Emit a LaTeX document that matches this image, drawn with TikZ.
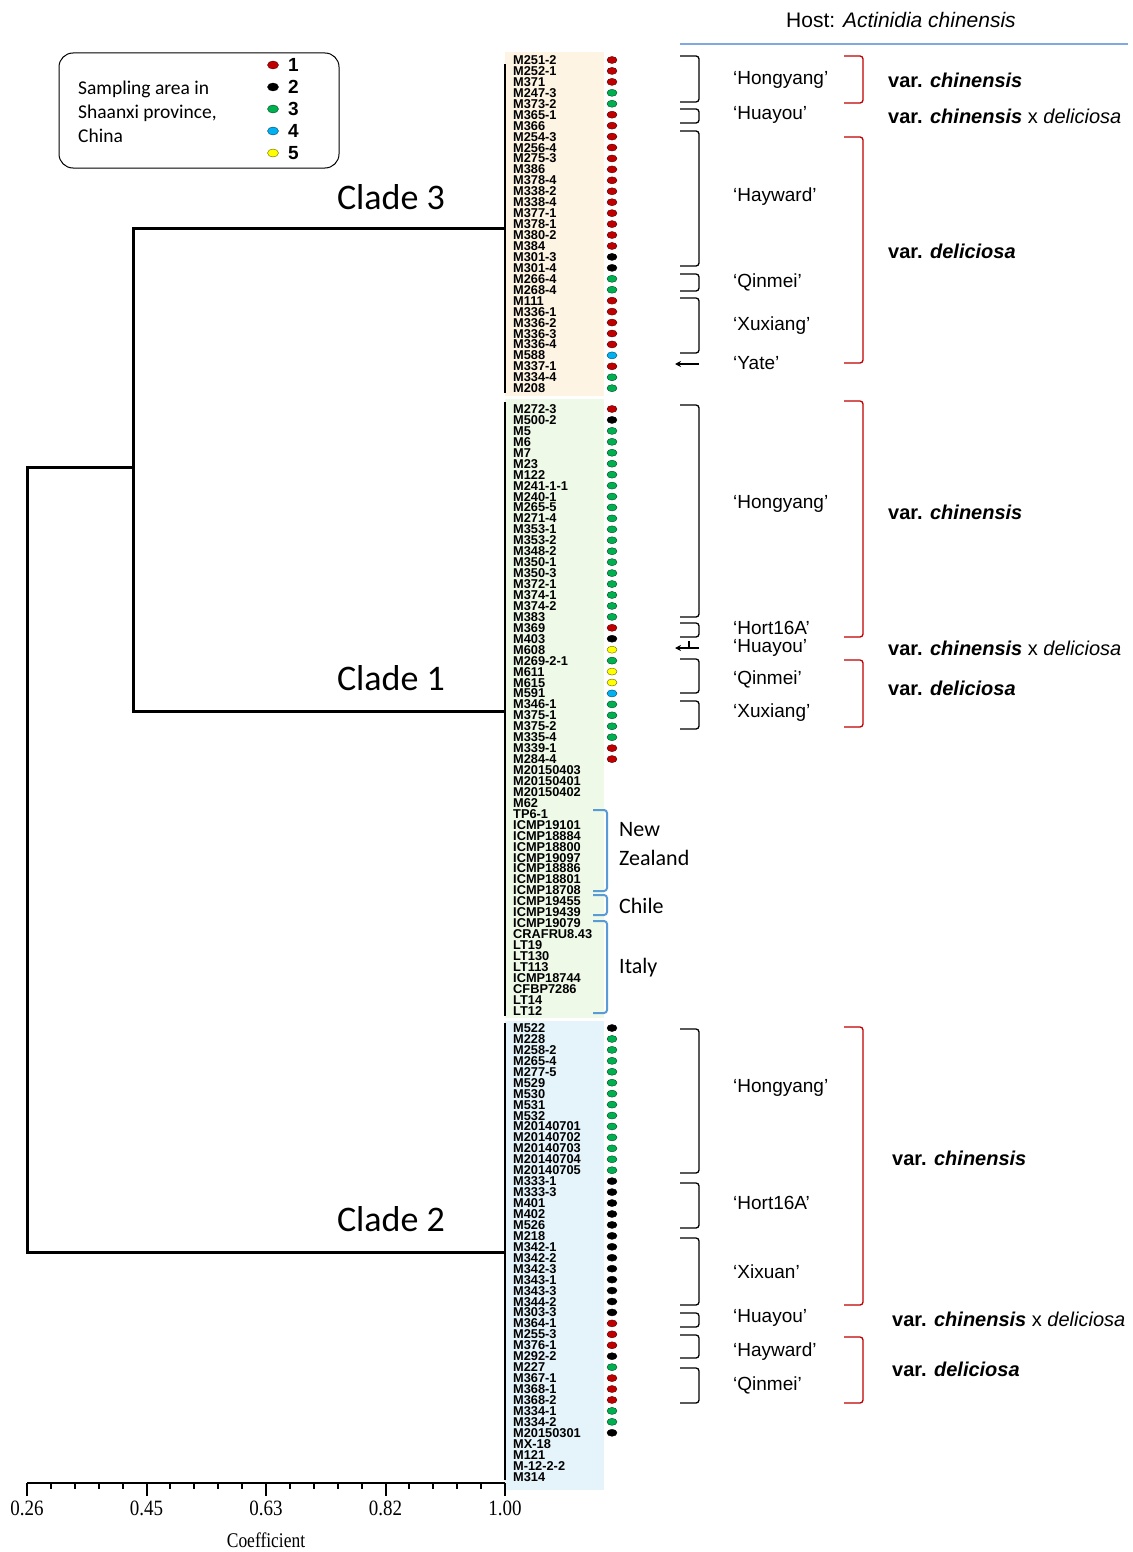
\documentclass[tikz,border=0pt]{standalone}
\usepackage{fontspec}
\setmainfont{Liberation Sans}
\newfontfamily\carlito{Carlito}
\newfontfamily\tnr{Liberation Serif}
\usetikzlibrary{arrows.meta,shapes.geometric}
\definecolor{cred}{HTML}{C00000}
\definecolor{cgreen}{HTML}{00B050}
\definecolor{cblue}{HTML}{00B0F0}
\definecolor{cyel}{HTML}{FFFF00}
\definecolor{cblk}{HTML}{000000}
\definecolor{bgor}{HTML}{FDF4E3}
\definecolor{bggr}{HTML}{EEF9E7}
\definecolor{bgbl}{HTML}{E4F4FA}
\definecolor{brblue}{HTML}{5B9BD5}
\definecolor{hline}{HTML}{7FAADF}
\begin{document}
\begin{tikzpicture}[x=1pt,y=-1pt,
  rowlab/.style={anchor=west,inner sep=0pt,font=\fontsize{12.8}{12.8}\selectfont\bfseries,text height=9pt,text depth=0pt},
  dot/.style={ellipse,inner sep=0pt,minimum width=10pt,minimum height=7pt,line width=0.4pt},
  dend/.style={line width=3pt},
  clv/.style={line width=2.2pt},
  kbr/.style={line width=1.3pt,rounded corners=3pt},
  rbr/.style={line width=1.3pt,draw=cred,rounded corners=3pt},
  bbr/.style={line width=2pt,draw=brblue,rounded corners=3pt},
  cult/.style={anchor=west,inner sep=0pt,font=\fontsize{19}{19}\selectfont},
  varl/.style={anchor=west,inner sep=0pt,font=\fontsize{20}{20}\selectfont},
  cladel/.style={font=\carlito\fontsize{36}{36}\selectfont,inner sep=0pt},
  geo/.style={anchor=west,inner sep=0pt,font=\carlito\fontsize{22}{22}\selectfont},
  ticklab/.style={font=\tnr\fontsize{19}{19}\selectfont,inner sep=0pt,yscale=1.15},
  tick/.style={line width=2pt},
  arr/.style={-{Stealth[length=6pt,width=6pt]},line width=1.3pt}
]
\useasboundingbox (0,0) rectangle (1132,1552);
\fill[white] (0,0) rectangle (1132,1552);

% backgrounds
\fill[bgor] (505,52) rectangle (604,396);
\fill[bggr] (505,399) rectangle (604,1018);
\fill[bgbl] (505,1021) rectangle (604,1490);

% clade 3 labels
\foreach \lab [count=\i] in {M251-2,M252-1,M371,M247-3,M373-2,M365-1,M366,M254-3,M256-4,M275-3,M386,M378-4,M338-2,M338-4,M377-1,M378-1,M380-2,M384,M301-3,M301-4,M266-4,M268-4,M111,M336-1,M336-2,M336-3,M336-4,M588,M337-1,M334-4,M208}{
  \pgfmathsetmacro\yy{60+(\i-1)*10.94}
  \node[rowlab] (ra\i) at (513,\yy) {\lab};}
\foreach \col [count=\i] in {cred,cred,cred,cgreen,cgreen,cred,cred,cred,cred,cred,cred,cred,cred,cred,cred,cred,cred,cred,cblk,cblk,cgreen,cgreen,cred,cred,cred,cred,cred,cblue,cred,cgreen,cgreen}{
  \pgfmathsetmacro\yy{60+(\i-1)*10.94}
  \node[dot,fill=\col,draw=\col!40!black] (pa\i) at (612,\yy) {};}

% clade 1 labels
\foreach \lab [count=\i] in {M272-3,M500-2,M5,M6,M7,M23,M122,M241-1-1,M240-1,M265-5,M271-4,M353-1,M353-2,M348-2,M350-1,M350-3,M372-1,M374-1,M374-2,M383,M369,M403,M608,M269-2-1,M611,M615,M591,M346-1,M375-1,M375-2,M335-4,M339-1,M284-4,M20150403,M20150401,M20150402,M62,TP6-1,ICMP19101,ICMP18884,ICMP18800,ICMP19097,ICMP18886,ICMP18801,ICMP18708,ICMP19455,ICMP19439,ICMP19079,CRAFRU8.43,LT19,LT130,LT113,ICMP18744,CFBP7286,LT14,LT12}{
  \pgfmathsetmacro\yy{409+(\i-1)*10.94}
  \node[rowlab] (rb\i) at (513,\yy) {\lab};}
\foreach \col [count=\i] in {cred,cblk,cgreen,cgreen,cgreen,cgreen,cgreen,cgreen,cgreen,cgreen,cgreen,cgreen,cgreen,cgreen,cgreen,cgreen,cgreen,cgreen,cgreen,cgreen,cred,cblk,cyel,cgreen,cyel,cyel,cblue,cgreen,cgreen,cgreen,cgreen,cred,cred}{
  \pgfmathsetmacro\yy{409+(\i-1)*10.94}
  \node[dot,fill=\col,draw=\col!40!black] (pb\i) at (612,\yy) {};}

% clade 2 labels
\foreach \lab [count=\i] in {M522,M228,M258-2,M265-4,M277-5,M529,M530,M531,M532,M20140701,M20140702,M20140703,M20140704,M20140705,M333-1,M333-3,M401,M402,M526,M218,M342-1,M342-2,M342-3,M343-1,M343-3,M344-2,M303-3,M364-1,M255-3,M376-1,M292-2,M227,M367-1,M368-1,M368-2,M334-1,M334-2,M20150301,MX-18,M121,M-12-2-2,M314}{
  \pgfmathsetmacro\yy{1028+(\i-1)*10.94}
  \node[rowlab] (rc\i) at (513,\yy) {\lab};}
\foreach \col [count=\i] in {cblk,cgreen,cgreen,cgreen,cgreen,cgreen,cgreen,cgreen,cgreen,cgreen,cgreen,cgreen,cgreen,cgreen,cblk,cblk,cblk,cblk,cblk,cblk,cblk,cblk,cblk,cblk,cblk,cblk,cblk,cred,cred,cred,cblk,cgreen,cred,cred,cred,cgreen,cgreen,cblk}{
  \pgfmathsetmacro\yy{1028+(\i-1)*10.94}
  \node[dot,fill=\col,draw=\col!40!black] (pc\i) at (612,\yy) {};}

% dendrogram
\coordinate (c3) at (505,228);
\coordinate (c1) at (505,711);
\coordinate (c2) at (505,1252);
\coordinate (j31a) at (133,228);
\coordinate (j31b) at (133,711);
\coordinate (j31) at (133,467);
\coordinate (rta) at (27,467);
\coordinate (rtb) at (27,1252);
\draw[clv] (505,64) -- (505,393);
\draw[clv] (505,402) -- (505,1016);
\draw[clv] (505,1023) -- (505,1480);
\draw[dend] (c3) -- (j31a) -- (j31b) -- (c1);
\draw[dend] (j31) -- (rta) -- (rtb) -- (c2);

% axis
\draw[tick] (27,1483) -- (505,1483);
\foreach \j in {1,...,19}{
  \pgfmathsetmacro\xx{27+\j*23.9}
  \draw[tick] (\xx,1483) -- (\xx,1489);}
\foreach \xx/\lab in {27/0.26,146.5/0.45,266/0.63,385.5/0.82,505/1.00}{
  \draw[tick] (\xx,1483) -- (\xx,1496);
  \node[ticklab] (t\lab) at (\xx,1508) {\lab};}
\node[font=\tnr\fontsize{19}{19}\selectfont,inner sep=0pt,xscale=0.92,yscale=1.1] (coef) at (266,1540) {Coefficient};

% clade labels
\node[cladel] (cl3) at (391,197) {Clade 3};
\node[cladel] (cl1) at (391,678) {Clade 1};
\node[cladel] (cl2) at (391,1219) {Clade 2};

% legend
\draw[line width=1pt,rounded corners=14pt] (59,53) rectangle (339,168);
\node[anchor=west,align=left,inner sep=0pt,font=\carlito\fontsize{19.5}{24}\selectfont] (legtxt) at (78,112) {Sampling area in\\Shaanxi province,\\China};
\foreach \col/\n/\yy in {cred/1/65,cblk/2/87,cgreen/3/109,cblue/4/131,cyel/5/153}{
  \node[dot,fill=\col,draw=\col!40!black,minimum width=11pt,minimum height=8pt] (ld\n) at (273,\yy) {};
  \node[anchor=west,inner sep=0pt,font=\fontsize{19}{19}\selectfont\bfseries] (ln\n) at (288,\yy) {\n};}

% header
\node[inner sep=0pt,font=\fontsize{21}{21}\selectfont] (host) at (901,20) {Host: \textit{Actinidia chinensis}};
\draw[hline,line width=1.4pt] (680,44) -- (1128,44);

% black brackets
\foreach \t/\b in {56/102,109/123,131/266,274/291,298/353,405/617,623/637,659/693,701/729,1029/1173,1183/1228,1238/1305,1313/1327,1335/1358,1368/1403}{
  \draw[kbr] (680,\t) -- (699,\t) -- (699,\b) -- (680,\b);}
% red brackets
\foreach \t/\b in {56/103,137/363,401/637,660/727,1027/1305,1337/1403}{
  \draw[rbr] (844,\t) -- (863,\t) -- (863,\b) -- (844,\b);}
% blue brackets
\foreach \t/\b in {810/891,895/915,921/1013}{
  \draw[bbr] (593,\t) -- (607,\t) -- (607,\b) -- (593,\b);}

% arrows
\coordinate (ya1) at (699,364);
\coordinate (ya2) at (675,364);
\draw[arr] (ya1) -- (ya2);
\coordinate (ha1) at (699,648);
\coordinate (ha2) at (675,648);
\draw[arr] (ha1) -- (ha2);
\draw[line width=1.3pt] (689,641) -- (689,648);

% cultivar labels
\node[cult] (k1) at (733,80) {‘Hongyang’};
\node[cult] (k2) at (733,115) {‘Huayou’};
\node[cult] (k3) at (733,197) {‘Hayward’};
\node[cult] (k4) at (733,282) {‘Qinmei’};
\node[cult] (k5) at (733,326) {‘Xuxiang’};
\node[cult] (k6) at (733,363) {‘Yate’};
\node[cult] (k7) at (733,504) {‘Hongyang’};
\node[cult] (k8) at (733,628) {‘Hort16A’};
\node[cult] (k9) at (733,648) {‘Huayou’};
\node[cult] (k10) at (733,679) {‘Qinmei’};
\node[cult] (k11) at (733,713) {‘Xuxiang’};
\node[cult] (k12) at (733,1088) {‘Hongyang’};
\node[cult] (k13) at (733,1203) {‘Hort16A’};
\node[cult] (k14) at (733,1272) {‘Xixuan’};
\node[cult] (k15) at (733,1318) {‘Huayou’};
\node[cult] (k16) at (733,1352) {‘Hayward’};
\node[cult] (k17) at (733,1385) {‘Qinmei’};

% var labels
\node[varl] (v1) at (888,80) {\textbf{var. \textit{chinensis}}};
\node[varl] (v2) at (888,116) {\textbf{var. \textit{chinensis}} x \textit{deliciosa}};
\node[varl] (v3) at (888,251) {\textbf{var. \textit{deliciosa}}};
\node[varl] (v4) at (888,512) {\textbf{var. \textit{chinensis}}};
\node[varl] (v5) at (888,648) {\textbf{var. \textit{chinensis}} x \textit{deliciosa}};
\node[varl] (v6) at (888,688) {\textbf{var. \textit{deliciosa}}};
\node[varl] (v7) at (892,1158) {\textbf{var. \textit{chinensis}}};
\node[varl] (v8) at (892,1319) {\textbf{var. \textit{chinensis}} x \textit{deliciosa}};
\node[varl] (v9) at (892,1369) {\textbf{var. \textit{deliciosa}}};

% geography
\node[geo] (g1) at (619,830) {New};
\node[geo] (g2) at (619,858) {Zealand};
\node[geo] (g3) at (619,906) {Chile};
\node[geo] (g4) at (619,968) {Italy};
\end{tikzpicture}
\end{document}
